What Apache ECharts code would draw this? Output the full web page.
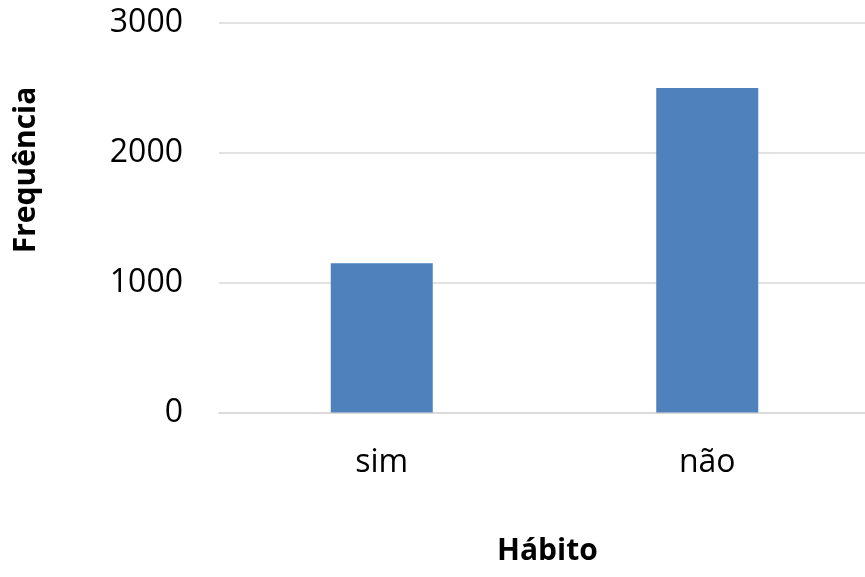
<!DOCTYPE html>
<html>
<head>
<meta charset="utf-8">
<script src="https://cdn.jsdelivr.net/npm/echarts@6/dist/echarts.min.js"></script>
<style>
  html, body { margin: 0; padding: 0; background: #fff; }
  #chart { width: 865px; height: 577px; }
</style>
</head>
<body>
<div id="chart"></div>
<script>
// Habit answers and their counts
const categories = ['sim', 'não'];
const frequencies = [1150, 2500];
const yTicks = { min: 0, max: 3000, step: 1000 };
const xTitle = 'Hábito';
const yTitle = 'Frequência';

const FONT = '"Open Sans", "Noto Sans", sans-serif';

const chart = echarts.init(document.getElementById('chart'), null, { renderer: 'canvas' });

chart.setOption({
  animation: false,
  backgroundColor: '#ffffff',
  grid: { left: 219, top: 23, width: 651, height: 389.5, outerBoundsMode: 'none' },
  xAxis: {
    type: 'category',
    data: categories,
    axisTick: { show: false },
    axisLine: { show: true, lineStyle: { color: '#D9D9D9', width: 1.5 } },
    axisLabel: { color: '#000', fontFamily: FONT, fontSize: 32, margin: 34 }
  },
  yAxis: {
    type: 'value',
    min: yTicks.min,
    max: yTicks.max,
    interval: yTicks.step,
    axisLine: { show: false },
    axisTick: { show: false },
    splitLine: { lineStyle: { color: '#D9D9D9', width: 1.5 } },
    axisLabel: {
      color: '#000', fontFamily: FONT, fontSize: 32, margin: 36,
      formatter: (v) => String(v)
    }
  },
  series: [{
    type: 'bar',
    data: frequencies,
    barWidth: 102,
    itemStyle: { color: '#4F81BD' }
  }],
  graphic: [
    {
      type: 'text',
      left: 497,
      top: 536,
      style: { text: xTitle, fill: '#000', font: 'bold 30px ' + FONT }
    },
    {
      type: 'text',
      x: 26,
      y: 170,
      rotation: Math.PI / 2,
      style: {
        text: yTitle, fill: '#000', font: 'bold 30px ' + FONT,
        align: 'center', verticalAlign: 'middle'
      }
    }
  ]
});
</script>
</body>
</html>
